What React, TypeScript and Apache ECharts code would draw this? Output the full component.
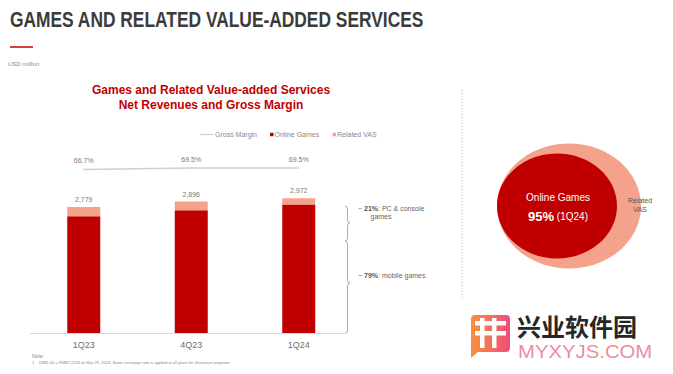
import React, { useEffect, useRef } from "react";
import * as echarts from "echarts";

const categories = ["1Q23", "4Q23", "1Q24"];
const onlineGames = [2574, 2706, 2830];
const relatedVAS = [205, 190, 142];
const totals = [2779, 2896, 2972];
const grossMargin = [66.7, 69.5, 69.5];

const RED = "#c00000";
const SALMON = "#f3a28c";
const GRAY = "#6f6f6f";
const LINE_GRAY = "#cfcfcf";

const braceD =
  "M345,206 Q347.5,206 347.5,209 L347.5,220 Q347.5,223 350,223 Q347.5,223 347.5,226 L347.5,238 Q347.5,241 345,241 " +
  "M345,241 Q347.5,241 347.5,244 L347.5,280 Q347.5,283 350,283 Q347.5,283 347.5,286 L347.5,330 Q347.5,333 345,333";

let registered = false;
function registerShapes() {
  if (registered) return;
  echarts.graphic.registerShape("brace", echarts.graphic.extendPath(braceD, {}) as any);
  registered = true;
}

export default function App() {
  const ref = useRef<HTMLDivElement>(null);
  useEffect(() => {
    if (!ref.current) return;
    registerShapes();
    const chart = echarts.init(ref.current, null, { renderer: "svg" });
    const font = "Liberation Sans, Arial, sans-serif";
    chart.setOption({
      animation: false,
      backgroundColor: "#ffffff",
      textStyle: { fontFamily: font },
      legend: [
        {
          data: [{ name: "Gross Margin", icon: "rect", itemStyle: { color: LINE_GRAY, opacity: 1 } }],
          left: 200, top: 131, itemWidth: 13, itemHeight: 1.2, itemGap: 2,
          textStyle: { fontSize: 7, color: "#8a8a8a", fontFamily: font, padding: [0, 0, 0, -3] },
          selectedMode: false, padding: 0,
        },
        {
          data: [{ name: "Online Games", icon: "rect" }],
          left: 270, top: 131, itemWidth: 3.5, itemHeight: 3.5,
          textStyle: { fontSize: 7, color: "#8a8a8a", fontFamily: font, padding: [0, 0, 0, -4] },
          selectedMode: false, padding: 0,
        },
        {
          data: [{ name: "Related VAS", icon: "rect" }],
          left: 332.5, top: 131, itemWidth: 3.5, itemHeight: 3.5,
          textStyle: { fontSize: 7, color: "#8a8a8a", fontFamily: font, padding: [0, 0, 0, -4] },
          selectedMode: false, padding: 0,
        },
      ],
      grid: [
        { left: 30, right: 320.5, top: 151.5, height: 181.5 },
        { left: 30, right: 320.5, top: 152.75, height: 50 },
      ],
      xAxis: [
        {
          type: "category", data: categories, gridIndex: 0,
          axisLine: { show: false }, axisTick: { show: false },
          axisLabel: { color: GRAY, fontSize: 9, margin: 7, fontFamily: font },
        },
        {
          type: "category", data: categories, gridIndex: 1, show: false,
        },
      ],
      yAxis: [
        { type: "value", min: 0, max: 4000, gridIndex: 0, show: false, splitLine: { show: false } },
        { type: "value", min: 0, max: 100, gridIndex: 1, show: false, splitLine: { show: false } },
      ],
      series: [
        {
          name: "Online Games", type: "bar", stack: "rev", data: onlineGames,
          xAxisIndex: 0, yAxisIndex: 0, barWidth: 33,
          itemStyle: { color: RED },
        },
        {
          name: "Related VAS", type: "bar", stack: "rev", data: relatedVAS,
          xAxisIndex: 0, yAxisIndex: 0, barWidth: 33,
          itemStyle: { color: SALMON },
          label: {
            show: true, position: "top", distance: 4, fontSize: 7, color: "#7a7a7a",
            formatter: (p: any) => totals[p.dataIndex].toLocaleString("en-US"),
          },
        },
        {
          name: "Gross Margin", type: "line", data: grossMargin,
          xAxisIndex: 1, yAxisIndex: 1, symbol: "circle", symbolSize: 1, showSymbol: true,
          lineStyle: { color: LINE_GRAY, width: 1.5 },
          itemStyle: { color: LINE_GRAY },
          label: {
            show: true, position: "top", distance: 5, fontSize: 7, color: "#7a7a7a",
            formatter: (p: any) => Number(p.value).toFixed(1) + "%",
          },
        },
      ],
      graphic: [
        {
          type: "text", x: 10, y: 8, scaleX: 0.79,
          style: { text: "GAMES AND RELATED VALUE-ADDED SERVICES", fontSize: 22, fontWeight: "bold", fill: "#3b3b3b", fontFamily: font },
        },
        { type: "line", shape: { x1: 10, y1: 47, x2: 33, y2: 47 }, style: { stroke: RED, lineWidth: 1.5 } },
        {
          type: "text", x: 8, y: 61,
          style: { text: "USD million", fontSize: 6, fontStyle: "italic", fill: "#8a8a8a", fontFamily: font },
        },
        {
          type: "text", x: 211, y: 83,
          style: {
            text: "Games and Related Value-added Services\nNet Revenues and Gross Margin",
            fontSize: 12, fontWeight: "bold", fill: RED, align: "center", lineHeight: 14.5, fontFamily: font,
          },
        },
        { type: "line", shape: { x1: 30, y1: 333.5, x2: 345, y2: 333.5 }, style: { stroke: "#d9d9d9", lineWidth: 1 } },
        { type: "brace", x: 0, y: 0, style: { stroke: "#c9a98a", fill: "none", lineWidth: 1 } },
        {
          type: "text", x: 358, y: 205,
          style: {
            text: "~ {b|21%}: PC & console", fontSize: 7, fill: "#666", fontFamily: font,
            rich: { b: { fontWeight: "bold", fontSize: 7, fill: "#555" } },
          },
        },
        {
          type: "text", x: 381, y: 213,
          style: { text: "games", fontSize: 7, fill: "#666", align: "center", fontFamily: font },
        },
        {
          type: "text", x: 358, y: 272,
          style: {
            text: "~ {b|79%}: mobile games", fontSize: 7, fill: "#666", fontFamily: font,
            rich: { b: { fontWeight: "bold", fontSize: 7, fill: "#555" } },
          },
        },
        {
          type: "line", shape: { x1: 462, y1: 90, x2: 462, y2: 298 },
          style: { stroke: "#d7a690", lineWidth: 1, lineDash: [1, 2] },
        },
        { type: "ellipse", shape: { cx: 569, cy: 206, rx: 72, ry: 62.5 }, style: { fill: SALMON } },
        { type: "ellipse", shape: { cx: 557, cy: 206, rx: 60, ry: 52.5 }, style: { fill: RED } },
        {
          type: "text", x: 558, y: 197,
          style: { text: "Online Games", fontSize: 10, fill: "#ffffff", align: "center", verticalAlign: "middle", fontFamily: font },
        },
        {
          type: "text", x: 558, y: 216,
          style: {
            text: "{b|95%} (1Q24)", fontSize: 10, fill: "#ffffff", align: "center", verticalAlign: "middle", fontFamily: font,
            rich: { b: { fontSize: 13, fontWeight: "bold", fill: "#ffffff" } },
          },
        },
        {
          type: "text", x: 640, y: 205,
          style: { text: "Related\nVAS", fontSize: 7, fill: "#555", align: "center", verticalAlign: "middle", lineHeight: 9, fontFamily: font },
        },
        {
          type: "text", x: 32, y: 353,
          style: { text: "Note:", fontSize: 5, fill: "#888", fontFamily: font },
        },
        {
          type: "text", x: 32, y: 360,
          style: {
            text: "1    US$1.00 = RMB7.2203 on Mar 29, 2024. Same exchange rate is applied to all years for illustrative purposes",
            fontSize: 4, fill: "#888", fontFamily: font,
          },
        },
        {
          type: "rect", shape: { x: 471, y: 315, width: 39, height: 37, r: 4 },
          style: {
            fill: new echarts.graphic.LinearGradient(0, 0, 1, 0, [
              { offset: 0, color: "#f7913a" },
              { offset: 1, color: "#ef4d7d" },
            ]),
          },
        },
        { type: "polygon", shape: { points: [[471, 346], [471, 358], [480, 350]] }, style: { fill: "#f48a44" } },
        { type: "rect", shape: { x: 480, y: 318, width: 4.5, height: 30 }, style: { fill: "#ffffff" } },
        { type: "rect", shape: { x: 492, y: 318, width: 4.5, height: 30 }, style: { fill: "#ffffff" } },
        { type: "rect", shape: { x: 475, y: 321, width: 31, height: 4.5 }, style: { fill: "#ffffff" } },
        { type: "rect", shape: { x: 475, y: 331, width: 31, height: 4.5 }, style: { fill: "#ffffff" } },
        {
          type: "text", x: 517, y: 325,
          style: { text: "兴业软件园", fontSize: 24, fontWeight: "bold", fill: "#262626", verticalAlign: "middle", fontFamily: "Noto Sans CJK SC" },
        },
        {
          type: "text", x: 518, y: 351, scaleX: 1.07, originX: 0,
          style: { text: "MYXYJS.COM", fontSize: 19, fill: "#ec8ea0", verticalAlign: "middle", fontFamily: font },
        },
      ],
    });
    return () => chart.dispose();
  }, []);
  return (
    <div
      ref={ref}
      style={{ position: "fixed", left: 0, top: 0, width: 673, height: 374, background: "#fff" }}
    />
  );
}
